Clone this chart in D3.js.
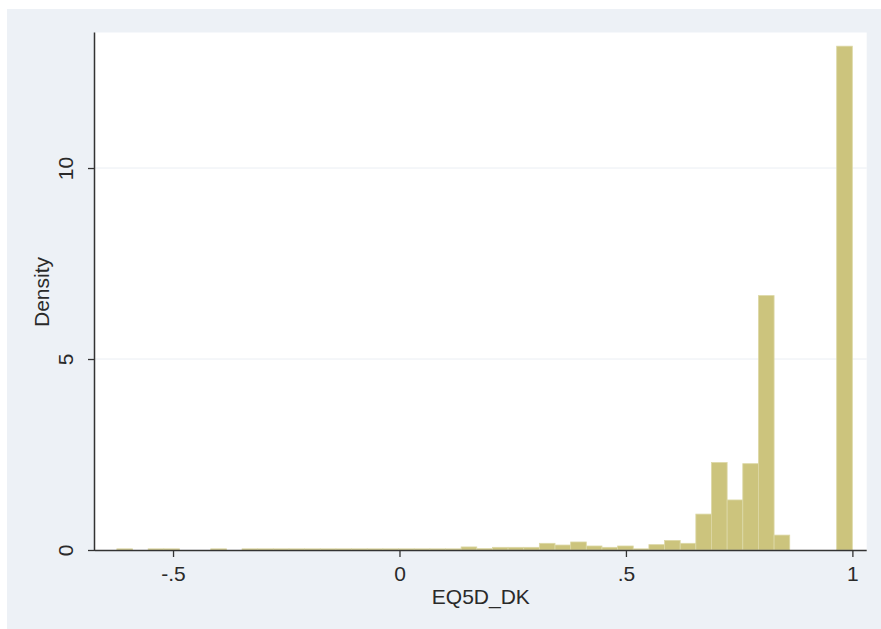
<!DOCTYPE html>
<html>
<head>
<meta charset="utf-8">
<script src="https://cdn.jsdelivr.net/npm/d3@7"></script>
<style>
  html, body { margin: 0; padding: 0; background: #ffffff; }
  svg { display: block; }
  text { font-family: "Liberation Sans", Arial, sans-serif; }
</style>
</head>
<body>
<svg id="chart" width="881" height="629"></svg>
<script>
// ---- data ----
const binStart = -0.624;
const binWidth = 0.03455;
const densities = [
  0.03, 0, 0.03, 0.03, 0, 0, 0.03, 0,
  0.03, 0.03, 0.03, 0.03, 0.03, 0.03, 0.03, 0.03, 0.03, 0.03, 0.03, 0.03, 0.03, 0.03,
  0.08, 0.035, 0.07, 0.07, 0.07, 0.175, 0.13, 0.21, 0.105, 0.07, 0.105, 0.03,
  0.14, 0.25, 0.175, 0.94, 2.29, 1.31, 2.26, 6.66, 0.39, 0, 0, 0, 13.19
];
const xTicks = [-0.5, 0, 0.5, 1];
const xTickLabels = ["-.5", "0", ".5", "1"];
const yTicks = [0, 5, 10];
const yTickLabels = ["0", "5", "10"];
const gridValues = [5, 10];
const xTitle = "EQ5D_DK";
const yTitle = "Density";

// ---- layout ----
const svg = d3.select("#chart");
const W = 881, H = 629;
const plot = { left: 95, right: 866.7, top: 32.5, bottom: 550 };

svg.append("rect").attr("x", 7).attr("y", 9).attr("width", W - 7).attr("height", H - 9)
  .attr("fill", "#edf1f6");
svg.append("rect").attr("x", plot.left).attr("y", plot.top)
  .attr("width", plot.right - plot.left).attr("height", plot.bottom - plot.top)
  .attr("fill", "#ffffff");

const x = d3.scaleLinear().domain([-0.6723, 1.0316]).range([plot.left, plot.right]);
const y = d3.scaleLinear().domain([0, 13.548]).range([plot.bottom, plot.top]);

// grid
svg.append("g").selectAll("line").data(gridValues).join("line")
  .attr("x1", plot.left).attr("x2", plot.right)
  .attr("y1", d => y(d)).attr("y2", d => y(d))
  .attr("stroke", "#eaeef3").attr("stroke-width", 1);

// bars
const bins = densities.map((d, i) => ({ x0: binStart + i * binWidth, x1: binStart + (i + 1) * binWidth, v: d }))
  .filter(b => b.v > 0);
svg.append("g").selectAll("rect").data(bins).join("rect")
  .attr("x", b => x(b.x0))
  .attr("width", b => x(b.x1) - x(b.x0))
  .attr("y", b => y(b.v))
  .attr("height", b => y(0) - y(b.v))
  .attr("fill", "#ccc47d")
  .attr("stroke", "#dcd8a6")
  .attr("stroke-width", 0.8);

// x axis
const xAxis = d3.axisBottom(x).tickValues(xTicks)
  .tickFormat((d, i) => xTickLabels[i]).tickSize(7).tickPadding(9).tickSizeOuter(0);
const gx = svg.append("g").attr("transform", `translate(0,${plot.bottom})`).call(xAxis);
gx.select(".domain").attr("d", `M${plot.left},0.5H${plot.right}`).attr("stroke", "#333").attr("stroke-width", 1.5);
gx.selectAll(".tick line").attr("stroke", "#333").attr("stroke-width", 1.3);
gx.selectAll(".tick text").attr("font-size", 21).attr("fill", "#2a2a2a")
  .attr("font-family", "'Liberation Sans', Arial, sans-serif");

// y axis
const yAxis = d3.axisLeft(y).tickValues(yTicks)
  .tickFormat((d, i) => yTickLabels[i]).tickSize(7).tickSizeOuter(0);
const gy = svg.append("g").attr("transform", `translate(${plot.left},0)`).call(yAxis);
gy.select(".domain").attr("d", `M-0.5,${plot.top}V${plot.bottom}`).attr("stroke", "#333").attr("stroke-width", 1.5);
gy.selectAll(".tick line").attr("stroke", "#333").attr("stroke-width", 1.3);
gy.selectAll(".tick text")
  .attr("font-size", 21).attr("fill", "#2a2a2a")
  .attr("font-family", "'Liberation Sans', Arial, sans-serif")
  .attr("x", null).attr("dy", null)
  .attr("text-anchor", "middle")
  .attr("transform", "translate(-22.5,0) rotate(-90)");

// titles
svg.append("text").attr("x", (plot.left + plot.right) / 2).attr("y", 604)
  .attr("text-anchor", "middle").attr("font-size", 21).attr("fill", "#2a2a2a").text(xTitle);
svg.append("text").attr("transform", `translate(48.5,292) rotate(-90)`)
  .attr("text-anchor", "middle").attr("font-size", 21).attr("fill", "#2a2a2a").text(yTitle);
</script>
</body>
</html>
